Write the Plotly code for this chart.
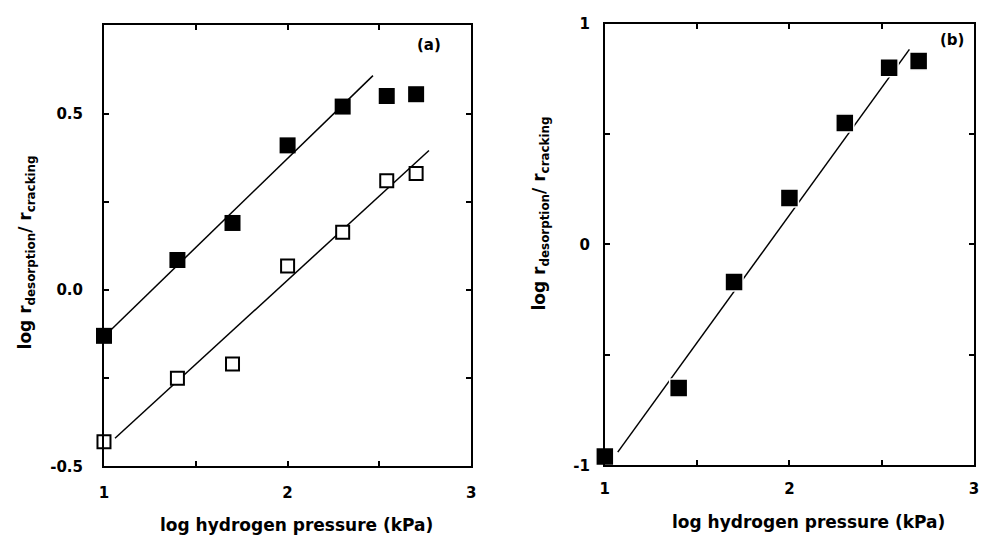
import plotly.graph_objects as go

# log hydrogen pressure (kPa)
log_p = [1.0, 1.4, 1.7, 2.0, 2.3, 2.54, 2.7]

# panel (a): two series of log(r_desorption / r_cracking)
a_filled = [-0.13, 0.085, 0.19, 0.41, 0.52, 0.55, 0.555]
a_open = [-0.43, -0.25, -0.21, 0.068, 0.164, 0.31, 0.33]

# panel (b)
b_filled = [-0.96, -0.65, -0.17, 0.21, 0.55, 0.80, 0.83]

# straight-line fits: (intercept, slope, x start, x end)
fit_a_filled = (-0.637, 0.505, 1.04, 2.465)
fit_a_open = (-0.926, 0.477, 1.06, 2.77)
fit_b = (-2.175, 1.154, 1.07, 2.65)

# tick labels
x_ticks = [1, 2, 3]
x_ticktext = ["1", "2", "3"]
ya_ticks = [-0.5, 0.0, 0.5]
ya_ticktext = ["-0.5", "0.0", "0.5"]
yb_ticks = [-1, 0, 1]
yb_ticktext = ["-1", "0", "1"]

W, H = 982, 544
FONT = "DejaVu Sans, Arial, sans-serif"


def fit_line(fit):
    a, b, x0, x1 = fit
    return [x0, x1], [a + b * x0, a + b * x1]


fig = go.Figure()

line_style = dict(color="black", width=1.5)

for fit, xa, ya in [(fit_a_filled, "x", "y"), (fit_a_open, "x", "y"), (fit_b, "x2", "y2")]:
    lx, ly = fit_line(fit)
    fig.add_trace(go.Scatter(x=lx, y=ly, mode="lines", line=line_style,
                             xaxis=xa, yaxis=ya, showlegend=False, hoverinfo="skip"))

fig.add_trace(go.Scatter(x=log_p, y=a_filled, mode="markers", xaxis="x", yaxis="y",
                         marker=dict(symbol="square", size=16, color="black", line=dict(width=0)),
                         cliponaxis=False, showlegend=False))
fig.add_trace(go.Scatter(x=log_p, y=a_open, mode="markers", xaxis="x", yaxis="y",
                         marker=dict(symbol="square", size=13, color="white",
                                     line=dict(color="black", width=2)),
                         cliponaxis=False, showlegend=False))
fig.add_trace(go.Scatter(x=log_p, y=b_filled, mode="markers", xaxis="x2", yaxis="y2",
                         marker=dict(symbol="square", size=18, color="black",
                                     line=dict(color="white", width=1.5)),
                         cliponaxis=False, showlegend=False))

tickfont = dict(family=FONT, size=15, color="black", weight="bold")


def axis_common():
    return dict(showline=True, linecolor="black", linewidth=2, mirror="ticks",
                ticks="inside", ticklen=5, tickwidth=1.5, tickcolor="black",
                showgrid=False, zeroline=False, tickfont=tickfont, fixedrange=True)


def px_x(px):
    return px / W


def px_y(py):
    return 1 - py / H


xa = axis_common()
xa.update(domain=[px_x(100), px_x(471)], range=[1, 3], tickvals=x_ticks, ticktext=x_ticktext,
          minor=dict(ticks="inside", dtick=0.5, ticklen=5, tickwidth=1.5, tickcolor="black"),
          ticklabelstandoff=12, anchor="y")
ya = axis_common()
ya.update(domain=[px_y(473), px_y(17)], range=[-0.5, 0.75], tickvals=ya_ticks, ticktext=ya_ticktext,
          minor=dict(ticks="inside", dtick=0.25, ticklen=5, tickwidth=1.5, tickcolor="black"),
          ticklabelstandoff=16, anchor="x")
xb = axis_common()
xb.update(domain=[px_x(606), px_x(979)], range=[1, 3], tickvals=x_ticks, ticktext=x_ticktext,
          minor=dict(ticks="inside", dtick=0.5, ticklen=5, tickwidth=1.5, tickcolor="black"),
          ticklabelstandoff=9, anchor="y2")
yb = axis_common()
yb.update(domain=[px_y(472), px_y(15)], range=[-1, 1], tickvals=yb_ticks, ticktext=yb_ticktext,
          minor=dict(ticks="inside", dtick=0.5, ticklen=5, tickwidth=1.5, tickcolor="black"),
          ticklabelstandoff=10, anchor="x2")

ytitle = "log r<sub>desorption</sub>/ r<sub>cracking</sub>"
xtitle = "log hydrogen pressure (kPa)"
title_font = dict(family=FONT, size=17, color="black", weight="bold")
label_font = dict(family=FONT, size=15, color="black", weight="bold")

annotations = [
    dict(x=px_x(295), y=px_y(534), text=xtitle, font=title_font),
    dict(x=px_x(812), y=px_y(531), text=xtitle, font=title_font),
    dict(x=px_x(22), y=px_y(252), text=ytitle, font=title_font, textangle=-90),
    dict(x=px_x(541), y=px_y(211), text=ytitle, font=title_font, textangle=-90),
    dict(x=px_x(428), y=px_y(37), text="(a)", font=label_font),
    dict(x=px_x(957), y=px_y(32), text="(b)", font=label_font),
]
for an in annotations:
    an.update(xref="paper", yref="paper", showarrow=False, xanchor="center", yanchor="middle")

fig.update_layout(
    width=W, height=H, margin=dict(l=0, r=0, t=0, b=0),
    paper_bgcolor="white", plot_bgcolor="white",
    xaxis=xa, yaxis=ya, xaxis2=xb, yaxis2=yb,
    annotations=annotations, showlegend=False,
)

fig.write_html("out.html")
